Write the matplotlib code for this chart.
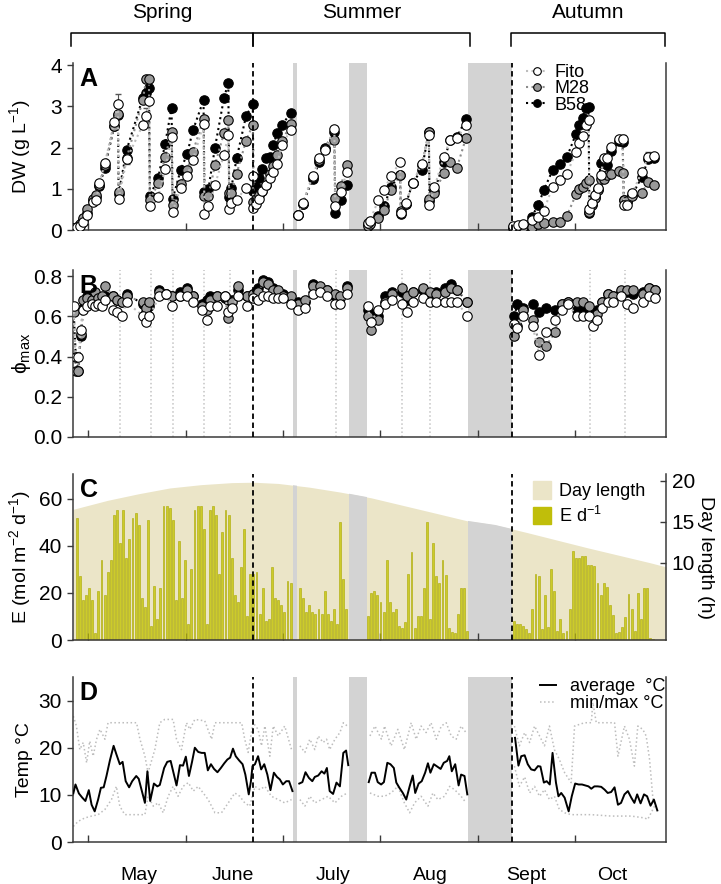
import numpy as np
import matplotlib
matplotlib.use('Agg')
import matplotlib.pyplot as plt
from matplotlib.lines import Line2D
from matplotlib.patches import Patch
import matplotlib.transforms as mtrans

plt.rcParams['font.family'] = ['Liberation Sans', 'DejaVu Sans']
plt.rcParams['mathtext.fontset'] = 'custom'
plt.rcParams['mathtext.rm'] = 'Liberation Sans'
plt.rcParams['mathtext.it'] = 'Liberation Sans:italic'
plt.rcParams['mathtext.bf'] = 'Liberation Sans:bold'

nan = np.nan
# ---------------- x positions are "day index" (0 = 28 April) ----------------
month_ticks = [3.6, 35.1, 66.4, 97.8, 129.3, 160.8]
month_labels = ['May', 'June', 'July', 'Aug', 'Sept', 'Oct']
month_label_pos = [20.1, 50.4, 82.7, 114.0, 144.9, 172.7]
gaps = [(69.9, 71.0), (87.7, 93.8), (126.2, 140.4)]
season_switch = [57.0, 140.4]
dilution_days = [14.0, 24.0, 31.1, 41.1, 49.5, 83.6, 104.9, 114.0, 165.6, 176.9]

# ---------------- Panel A: dry weight ----------------
a_day = [-1.0, 0.0, 1.0, 2.0, 3.2, 5.2, 6.3, 7.3, 9.1, 12.1, 13.3, 13.5, 16.1, 21.3, 22.4, 23.3, 23.6,
         26.3, 28.5, 30.6, 30.9, 33.5, 35.6, 37.5, 40.9, 41.2, 42.5, 44.6, 47.5, 48.9, 49.2, 49.9,
         51.6, 54.6, 56.8, 57.0, 57.7, 58.7, 59.8, 61.0, 62.2, 63.4, 64.6, 66.2, 69.0, nan,
         71.3, 72.9, 76.1, 78.3, 80.1, 83.1, 83.4, 85.2, 87.1, nan,
         93.9, 94.6, 97.3, 99.2, 101.3, 104.3, 104.6, 106.2, 108.4, 111.3, 113.6, 113.8, 115.4,
         118.5, 120.4, 122.6, 125.6, nan,
         140.9, 142.5, 144.1, 146.8, 148.9, 150.7, 153.5, 155.9, 158.1, 161.1, 162.1, 163.2, 164.3,
         165.1, 165.4, 166.1, 167.2, 168.3, 169.0, 170.1, 171.2, 172.4, 175.0, 176.1, 176.5, 177.4,
         179.2, 182.3, 184.4, 186.3]
fito_dw = [.05, .07, .10, .20, .36, .69, .73, 1.15, 1.62, 2.63, 3.06, .74, 1.71, 2.55, 2.76, 3.13, .57,
           .81, 1.47, 2.25, .43, 1.03, 1.31, 1.70, 2.57, .40, .57, 1.09, 1.83, 2.30, .50, .66,
           .73, 1.03, 1.30, .53, .62, .75, .95, 1.10, 1.25, 1.40, 1.60, 2.05, 2.43, nan,
           .36, .66, 1.31, 1.74, 1.94, 2.45, .57, .93, 1.40, nan,
           .18, .22, .73, .97, 1.31, 1.64, .42, .65, 1.15, 1.60, 2.30, .60, 1.05,
           1.78, 2.18, 2.22, 2.55, nan,
           .10, .11, .15, .25, .31, .47, 1.05, 1.21, 1.36, 1.90, 2.12, 2.28, 2.55,
           2.67, .50, .65, .85, 1.01, 1.33, 1.74, 1.74, 2.02, 2.20, 2.20, .60, .60,
           .89, 1.41, 1.78, 1.79]
m28_dw = [.04, .07, .14, .30, .50, .75, .85, 1.09, 1.58, 2.52, 2.81, .93, 1.74, 3.15, 3.66, 3.66, .73,
          1.13, 1.76, 2.38, .61, 1.12, 1.45, 1.90, 2.69, .82, .82, 1.58, 2.35, 2.67, .89, .90,
          1.37, 2.16, 2.55, .69, .75, .85, .95, 1.10, 1.35, 1.55, 1.82, 2.15, 2.56, nan,
          .36, .63, 1.29, 1.70, 1.97, 2.18, .78, 1.07, 1.58, nan,
          .10, .15, .30, .49, .97, 1.33, .45, .63, 1.15, 1.58, 2.38, .75, .90,
          1.39, 1.66, 1.50, 2.24, nan,
          .04, .06, .08, .08, .15, .16, .20, .20, .34, .87, .99, 1.05, 1.15,
          1.21, .44, .60, .77, .97, 1.23, 1.23, 1.33, 1.35, 1.44, 1.39, .73, .70,
          .82, .90, 1.17, 1.09]
b58_dw = [.04, .06, .12, .25, .42, .70, .80, 1.07, 1.51, 2.52, 2.79, .87, 1.94, 3.20, 3.33, 3.44, .82,
          1.27, 2.08, 2.97, .74, 1.45, 1.84, 2.42, 3.15, .93, 1.00, 2.00, 3.20, 3.57, .81, 1.03,
          1.74, 2.76, 3.06, .95, 1.05, 1.25, 1.47, 1.75, 1.77, 2.05, 2.35, 2.55, 2.83, nan,
          .36, .63, 1.23, 1.66, 2.00, 2.38, .42, .73, 1.09, nan,
          .14, .18, .35, .57, 1.05, 1.33, .40, .63, 1.15, 1.46, 2.38, .70, .95,
          1.66, 2.18, 2.25, 2.69, nan,
          .07, .08, .10, .32, .61, .97, 1.45, 1.59, 1.76, 2.34, 2.55, 2.72, 2.97,
          2.99, .42, .62, .80, 1.00, 1.62, 1.70, 1.58, 1.92, 2.15, 2.14, .73, .68,
          .85, 1.29, 1.72, 1.75]
fito_err_day = [13.3, 16.1, 22.4, 113.6, 176.1, 184.4]
fito_err_val = [3.06, 1.71, 2.76, 2.30, 2.20, 1.78]
fito_err = [0.25, 0.12, 0.2, 0.1, 0.1, 0.1]

# ---------------- Panel B: Fv/Fm ----------------
b_day = [-1.0, -0.3, 0.5, 1.3, 2.1, 3.2, 4.8, 5.9, 7.0, 8.0, 9.1, 11.8, 12.9, 14.5, 16.1, 21.5, 22.4, 23.4,
         26.7, 28.8, 30.6, 33.3, 35.5, 37.6, 40.3, 41.9, 43.0, 45.2, 47.8, 48.9, 50.0, 52.1, 54.8,
         57.0, 58.6, 60.2, 61.8, 63.4, 65.0, 66.6, 69.0, nan,
         71.5, 73.6, 76.3, 78.5, 80.6, 83.3, 84.9, 87.3, nan,
         94.0, 94.8, 97.3, 99.5, 101.6, 104.8, 106.7, 108.6, 111.8, 114.0, 115.9, 118.8, 120.8,
         122.8, 125.9, nan,
         141.2, 142.1, 144.1, 147.1, 149.2, 151.3, 154.3, 156.4, 158.4, 161.5, 163.4, 165.4, 166.7,
         167.7, 169.3, 171.5, 173.1, 175.5, 177.4, 179.6, 182.6, 184.7, 186.5]
fito_fv = [.65, .40, .40, .53, .63, .65, .66, .65, .66, .65, .68, .63, .62, .60, .67, .60, .57, .60,
           .70, .71, .65, .70, .70, .67, .63, .58, .65, .65, .70, .62, .64, .70, .65,
           .69, .68, .70, .70, .69, .69, .69, .66, nan,
           .63, .64, .71, .72, .70, .66, .66, .71, nan,
           .65, .57, .63, .66, .68, .66, .62, .67, .69, .67, .67, .67, .67, .67, .60, nan,
           .56, .54, .60, .55, .41, .52, .58, .63, .66, .60, .60, .60, .55,
           .58, .64, .67, .67, .70, .66, .64, .67, .70, .69]
m28_fv = [.62, .33, .33, .51, .68, .69, .68, .72, .69, .70, .75, .70, .68, .67, .70, .67, .64, .67,
          .72, .71, .70, .70, .73, .70, .65, .63, .68, .70, .70, .59, .67, .75, .70,
          .71, .72, .77, .76, .73, .73, .70, .70, nan,
          .66, .68, .75, .75, .73, .71, .70, .74, nan,
          .60, .53, .58, .67, .71, .74, .70, .72, .74, .72, .71, .72, .74, .73, .67, nan,
          .50, .55, .63, .58, .47, .45, .52, .66, .67, .67, .67, .65, .60,
          .61, .67, .71, .70, .73, .73, .73, .71, .74, .73]
b58_fv = [.63, .40, .33, .50, .64, .70, .70, .71, .69, .66, .70, .70, .68, .67, .71, .66, .62, .65,
          .73, .71, .70, .72, .74, .70, .66, .68, .70, .70, .69, .68, .68, .73, .70,
          .71, .74, .78, .77, .74, .72, .71, .68, nan,
          .67, .67, .76, .74, .73, .70, .69, .75, nan,
          .63, .61, .60, .70, .72, .72, .68, .72, .73, .71, .72, .74, .76, .73, .67, nan,
          .60, .66, .64, .66, .62, .64, .63, .66, .67, .63, .63, .63, .60,
          .63, .67, .71, .70, .72, .72, .71, .72, .74, .73]

# ---------------- Panel C: daily light and day length ----------------
e_seg_start = [0, 72, 94, 141]
e_seg1 = [52, 27, 17, 19, 22, 17, 3, 21, 34, 19, 29, 34, 53, 55, 41, 55, 35, 43, 52, 54,
          49, 18, 14, 51, 6, 23, 9, 22, 57, 57, 56, 51, 17, 42, 18, 34, 7, 30, 55, 57,
          57, 47, 7, 55, 57, 53, 28, 46, 55, 53, 35, 19, 16, 31, 47, 10, 28, 28, 29, 11,
          22, 8, 9, 31, 18, 17, 15, 12, 25, 24]
e_seg2 = [22, 18, 12, 15, 12, 11, 13, 11, 21, 11, 8, 13, 7, 50, 26, 13]
e_seg3 = [10, 20, 21, 19, 16, 12, 34, 16, 12, 13, 6, 5, 7.5, 28, 37.5, 5, 10, 10, 22, 50,
          9, 41, 27, 24, 34, 27.5, 5, 3.5, 3, 11, 22, 22, 4]
e_seg4 = [8, 7, 7, 6, 4.5, 3, 13, 28, 27, 4.5, 19, 5.6, 30, 21, 4, 9, 3, 4, 13, 38,
          35, 35, 35.5, 35.5, 32, 32, 31.5, 24, 19, 24, 22.5, 15, 10.5, 3, 3.5, 5.6, 9.6, 19.4, 13, 4,
          20, 9, 22, 22, 0.7, 0.4]
daylen_day = [-1.2, 10, 20, 30, 40, 50, 57, 65, 75, 85, 95, 105, 115, 126, 135, 145, 155, 165, 175, 185, 190.1]
daylen_h = [16.5, 17.6, 18.4, 19.1, 19.5, 19.75, 19.8, 19.65, 19.2, 18.6, 17.9, 17.0, 16.1, 15.1,
            14.6, 13.7, 12.75, 11.8, 10.9, 10.0, 9.5]

# ---------------- Panel D: temperature ----------------
tavg_day = [-1.1, -0.4, 0.7, 1.8, 2.8, 3.9, 4.8, 5.8, 6.9, 7.8, 8.7, 9.6, 10.7, 11.9, 12.8, 13.9, 14.8,
            15.8, 16.9, 17.9, 19.2, 20.0, 20.9, 22.0, 22.8, 23.7, 24.9, 26.0, 26.8, 28.2, 29.2, 30.3,
            31.1, 32.2, 33.3, 34.3, 35.2, 36.2, 37.2, 38.1, 39.2, 40.3, 41.3, 42.3, 43.3, 44.3, 45.4,
            46.5, 47.6, 48.6, 49.5, 50.4, 51.3, 52.4, 53.5, 54.4, 55.5, 56.2, 56.7, 57.5, 58.5, 59.5,
            60.5, 61.5, 62.5, 63.6, 64.6, 65.5, 66.5, 67.6, 68.5, 69.6, nan,
            71.8, 72.8, 73.8, 74.9, 76.0, 76.8, 77.9, 79.0, 79.9, 80.7, 81.6, 82.7, 83.8, 84.9, 86.0,
            86.9, 87.6, nan,
            94.2, 95.1, 96.2, 97.1, 98.2, 99.1, 100.2, 101.2, 102.3, 103.1, 104.1, 105.2, 106.3,
            107.4, 108.4, 109.2, 110.3, 111.3, 112.4, 113.3, 114.1, 115.2, 116.3, 117.4, 118.4,
            119.5, 120.2, 121.0, 122.1, 123.2, 124.0, 125.1, 126.0, nan,
            141.4, 142.5, 143.4, 144.5, 145.5, 146.6, 147.7, 148.8, 149.6, 150.7, 151.6, 152.6,
            153.5, 154.6, 155.4, 156.3, 157.4, 158.7, 159.7, 160.8, 161.9, 163.0, 164.0, 165.1,
            166.0, 167.0, 168.1, 169.2, 170.3, 171.3, 172.4, 173.5, 174.6, 175.6, 176.7, 177.8,
            178.9, 179.9, 180.8, 181.9, 183.0, 184.0, 185.1, 186.2, 187.3]
tavg = [10.3, 12.2, 10.3, 9.4, 8.7, 11.0, 7.9, 6.5, 9.0, 11.5, 11.6, 14.0, 17.3, 20.4, 18.6, 16.5, 17.0,
        12.9, 11.6, 12.9, 14.0, 13.4, 11.1, 8.3, 15.0, 8.7, 12.4, 11.8, 12.1, 15.7, 17.0, 17.2,
        15.0, 12.0, 16.3, 16.2, 18.1, 14.0, 17.0, 20.0, 19.1, 18.9, 18.9, 15.2, 16.5, 15.5, 14.8,
        15.7, 16.7, 17.5, 17.9, 19.8, 18.2, 17.3, 16.5, 14.3, 10.1, 12.9, 16.1, 16.5, 18.2, 15.4,
        16.5, 14.3, 11.0, 14.7, 13.8, 13.3, 12.2, 12.9, 12.9, 10.8, nan,
        12.4, 12.7, 14.8, 13.6, 12.9, 13.8, 14.1, 15.0, 14.5, 15.7, 10.8, 10.2, 12.6, 11.8, 18.9,
        19.4, 16.3, nan,
        12.7, 14.7, 14.7, 12.7, 12.2, 12.7, 16.8, 16.5, 15.7, 12.6, 11.5, 10.4, 9.0,
        11.8, 14.1, 10.4, 12.4, 12.9, 14.7, 16.7, 14.7, 16.5, 16.0, 15.5, 16.8,
        17.2, 18.2, 15.0, 16.5, 12.0, 14.3, 14.0, 10.1, nan,
        22.1, 16.2, 18.2, 18.4, 16.5, 15.4, 15.2, 16.1, 16.0, 12.6, 12.9, 12.2,
        18.9, 12.6, 9.7, 10.4, 9.4, 6.5, 9.7, 12.4, 12.2, 12.2, 12.0, 11.8,
        11.3, 11.8, 11.8, 11.7, 11.1, 10.4, 10.6, 11.6, 7.9, 8.3, 10.1, 10.8,
        9.4, 8.3, 10.1, 8.2, 10.1, 9.7, 7.7, 9.0, 6.7]
tmax_day = [-1.1, -0.1, 1.0, 2.1, 3.2, 4.2, 5.3, 6.4, 7.5, 9.1, 10.1, 12.8, 15.5, 19.3, 20.4, 22.0, 23.0,
            25.2, 26.8, 28.4, 31.1, 32.2, 33.8, 35.4, 36.5, 38.1, 41.3, 43.5, 44.6, 46.7, 53.2, 54.2,
            55.3, 56.9, 58.5, 59.6, 60.7, 62.3, 63.4, 65.0, 67.1, 69.3, nan,
            72.0, 73.6, 75.2, 76.8, 77.9, 79.5, 80.6, 81.6, 83.3, 84.9, 86.0, 87.3, nan,
            94.6, 96.2, 98.3, 99.3, 101.4, 103.6, 105.7, 107.9, 109.5, 111.1, 112.7, 114.3, 116.0,
            117.6, 119.2, 120.8, 122.4, 124.0, 125.6, nan,
            141.2, 142.8, 144.5, 146.1, 147.7, 149.3, 150.9, 152.5, 154.1, 155.7, 157.4, 159.5,
            160.6, 163.8, 166.0, 166.5, 167.6, 173.5, 174.6, 176.7, 178.3, 179.9, 181.0, 182.6,
            183.7, 184.8, 185.9, 186.9]
tmax = [26.7, 24.6, 19.6, 21.1, 16.8, 21.4, 18.2, 21.8, 23.9, 21.8, 25.3, 25.3, 25.3, 25.3, 21.8, 18.2,
        14.7, 19.6, 25.3, 26.0, 26.0, 21.8, 19.6, 25.3, 23.9, 26.0, 25.7, 21.8, 25.3, 25.3, 25.3,
        21.8, 19.0, 25.3, 23.9, 20.4, 24.6, 18.2, 24.6, 22.5, 24.6, 19.6, nan,
        20.4, 19.0, 21.8, 19.6, 22.5, 21.1, 21.8, 19.6, 21.8, 23.2, 25.3, 24.6, nan,
        22.5, 24.6, 21.8, 24.6, 20.4, 23.9, 19.6, 25.3, 21.8, 24.6, 23.2, 25.3, 21.8,
        24.6, 25.3, 22.5, 21.8, 24.6, 23.2, nan,
        24.6, 20.4, 23.2, 21.1, 24.6, 22.5, 20.4, 24.6, 19.6, 17.5, 14.7, 12.6,
        24.6, 25.3, 25.3, 29.6, 25.3, 25.3, 18.2, 24.6, 21.8, 16.1, 24.6, 23.9,
        22.5, 17.5, 9.0, 7.6]
tmin_day = [-1.1, 0.5, 2.6, 4.8, 6.9, 9.1, 11.2, 12.8, 13.9, 15.5, 22.0, 23.0, 24.7, 26.3, 27.9, 29.5,
            31.1, 32.7, 34.3, 36.0, 37.6, 39.2, 40.8, 42.4, 44.6, 46.7, 48.9, 51.0, 52.6, 54.2, 55.8,
            57.5, 59.1, 60.7, 62.8, 65.0, 67.1, 69.3, nan,
            72.0, 73.6, 75.2, 76.8, 79.0, 81.1, 83.3, 85.4, 87.3, nan,
            94.6, 97.2, 99.3, 101.4, 103.6, 105.7, 107.4, 109.0, 111.1, 113.3, 114.9, 116.5, 118.7,
            120.3, 121.9, 124.0, 125.6, nan,
            141.2, 142.8, 144.5, 146.1, 147.7, 149.3, 150.9, 152.5, 154.1, 155.7, 157.4, 159.5,
            166.0, 172.4, 178.9, 183.2, 184.2, 186.4]
tmin = [3.3, 4.4, 5.1, 5.5, 5.8, 6.9, 9.0, 11.8, 7.6, 5.8, 5.8, 9.7, 7.6, 8.3, 6.2, 9.7,
        11.8, 9.7, 11.8, 12.6, 10.8, 11.8, 10.4, 9.0, 6.2, 6.2, 8.3, 10.4, 9.7, 8.3, 7.6,
        11.8, 11.1, 11.8, 9.7, 9.0, 8.3, 9.0, nan,
        9.0, 7.6, 9.7, 8.3, 9.0, 9.7, 8.3, 9.7, 10.4, nan,
        10.4, 9.7, 9.7, 10.4, 11.8, 8.3, 6.2, 8.3, 9.7, 7.6, 10.4, 9.0, 9.7,
        11.8, 11.1, 9.7, 8.3, nan,
        16.1, 11.8, 13.8, 10.4, 11.8, 9.7, 11.1, 9.0, 9.7, 6.9, 6.2, 5.8,
        5.8, 5.5, 5.5, 5.1, 4.8, 7.6]

# ---------------- styling ----------------
W, H = 721, 884
fig = plt.figure(figsize=(W / 100, H / 100), dpi=100)
spine_c = '#3a3a3a'
gap_c = '#d3d3d3'
fs = 14      # axis labels, month labels
fs_tick = 15
fs_leg = 13

def fx(px):
    return px / W

def fy(py):
    return 1 - py / H

left, right = 73, 666
boxes = [(63, 230), (270, 437), (474, 640), (677, 842)]
axes = []
for top, bot in boxes:
    ax = fig.add_axes([fx(left), fy(bot), fx(right - left), (bot - top) / H])
    axes.append(ax)
axA, axB, axC, axD = axes

xlim = (-1.2, 190.1)
for ax in axes:
    ax.set_xlim(*xlim)
    ax.spines['top'].set_visible(False)
    for s in ['left', 'right', 'bottom']:
        ax.spines[s].set_color(spine_c)
        ax.spines[s].set_linewidth(1.1)
    ax.set_xticks(month_ticks)
    ax.set_xticklabels([])
    ax.tick_params(axis='x', direction='in', length=5, width=1, colors=spine_c)
    ax.tick_params(axis='y', direction='out', length=4, width=1, colors=spine_c,
                   labelcolor='black', labelsize=fs_tick, pad=4)
    ax.tick_params(axis='y', right=False)
    for ds in season_switch:
        ax.axvline(ds, color='black', ls=(0, (3, 2)), lw=1.3, zorder=5)

for ax in (axA, axB, axD):
    for g0, g1 in gaps:
        ax.axvspan(g0, g1, color=gap_c, lw=0, zorder=0)

# ---------- A ----------
series = [('B58', b58_dw, 'black', 'black'), ('M28', m28_dw, '#999999', '#8c8c8c'),
          ('Fito', fito_dw, 'white', '#bdbdbd')]
axA.errorbar(fito_err_day, fito_err_val, yerr=fito_err, fmt='none', ecolor='#555555',
             elinewidth=0.8, capsize=2, zorder=2)
for name, vals, fc, lc in series:
    axA.plot(a_day, vals, ls=':', lw=1.5, color=lc, marker='o', ms=6.8, mfc=fc,
             mec='black', mew=0.8, zorder=3)
axA.set_ylim(0, 4.05)
axA.set_yticks([0, 1, 2, 3, 4])
axA.set_ylabel('DW (g L$^{-1}$)', fontsize=fs)
handles = [Line2D([], [], ls=':', lw=1.5, color='#bdbdbd', marker='o', ms=5.5, mfc='white', mec='black', mew=0.8),
           Line2D([], [], ls=':', lw=1.5, color='#8c8c8c', marker='o', ms=5.5, mfc='#999999', mec='black', mew=0.8),
           Line2D([], [], ls=':', lw=1.5, color='black', marker='o', ms=5.5, mfc='black', mec='black', mew=0.8)]
axA.legend(handles, ['Fito', 'M28', 'B58'], loc='upper left', bbox_to_anchor=(0.752, 1.035),
           frameon=False, fontsize=fs_leg, handlelength=1.2, handletextpad=0.35, labelspacing=-0.05,
           borderaxespad=0)

# ---------- B ----------
for dd in dilution_days:
    axB.axvline(dd, color='#c4c4c4', ls=':', lw=1.1, zorder=1)
for name, vals, fc, lc in [('B58', b58_fv, 'black', 'black'), ('M28', m28_fv, '#999999', '#8c8c8c'),
                           ('Fito', fito_fv, 'white', '#bdbdbd')]:
    axB.plot(b_day, vals, ls=':', lw=1.5, color=lc, marker='o', ms=6.8, mfc=fc,
             mec='black', mew=0.8, zorder=3)
axB.set_ylim(0, 0.83)
axB.set_yticks([0, 0.2, 0.4, 0.6, 0.8])
axB.set_yticklabels(['0.0', '0.2', '0.4', '0.6', '0.8'])
axB.set_ylabel('ϕ$_{\\mathrm{max}}$', fontsize=fs + 1)

# ---------- C ----------
axC2 = axC.twinx()
axC.set_zorder(axC2.get_zorder() + 1)
axC.patch.set_visible(False)
beige = '#ebe5c8'
fill = axC2.fill_between(daylen_day, 0, daylen_h, color=beige, lw=0, zorder=0)
clip_path = fill.get_paths()[0]
for g0, g1 in gaps:
    sp = axC2.axvspan(g0, g1, color=gap_c, lw=0, zorder=1)
    sp.set_clip_path(clip_path, axC2.transData)
axC2.set_ylim(0.6, 20.8)
axC2.set_yticks([10, 15, 20])
axC2.tick_params(axis='y', direction='in', length=4, width=1, colors=spine_c,
                 labelcolor='black', labelsize=fs_tick, pad=4)
for s in ['top', 'left', 'bottom']:
    axC2.spines[s].set_visible(False)
axC2.spines['right'].set_color(spine_c)
axC2.spines['right'].set_linewidth(1.1)
axC2.set_ylabel('Day length (h)', fontsize=fs, rotation=270, va='bottom')
axC2.yaxis.set_label_coords(1.053, 0.5)
axC.spines['right'].set_visible(False)

bar_c = '#cccb2a'
for start, seg in zip(e_seg_start, [e_seg1, e_seg2, e_seg3, e_seg4]):
    xs = start + np.arange(len(seg))
    axC.bar(xs, seg, width=0.6, color=bar_c, edgecolor='#a9a700', lw=0.4, zorder=2)
axC.set_ylim(0, 70.5)
axC.set_yticks([0, 20, 40, 60])
axC.set_ylabel('E (mol m$^{-2}$ d$^{-1}$)', fontsize=fs)
axC.legend([Patch(color=beige), Patch(color='#c0be0a')], ['Day length', 'E d$^{-1}$'],
           loc='upper left', bbox_to_anchor=(0.764, 1.0), frameon=False, fontsize=fs_leg,
           handlelength=1.0, handleheight=1.1, handletextpad=0.45, labelspacing=0.3, borderaxespad=0)

# ---------- D ----------
axD.plot(tmax_day, tmax, ls=':', lw=1.1, color='#bdbdbd', zorder=2)
axD.plot(tmin_day, tmin, ls=':', lw=1.1, color='#bdbdbd', zorder=2)
axD.plot(tavg_day, tavg, ls='-', lw=1.4, color='black', zorder=3)
axD.set_ylim(0, 35)
axD.set_yticks([0, 10, 20, 30])
axD.set_ylabel('Temp °C', fontsize=fs)
axD.legend([Line2D([], [], color='black', lw=1.4), Line2D([], [], color='#bdbdbd', lw=1.1, ls=':')],
           ['average  °C', 'min/max °C'], loc='upper left', bbox_to_anchor=(0.775, 1.035),
           frameon=False, fontsize=fs_leg, handlelength=0.9, handletextpad=0.8, labelspacing=0.0,
           borderaxespad=0)
trans = mtrans.blended_transform_factory(axD.transData, axD.transAxes)
for pos, lab in zip(month_label_pos, month_labels):
    axD.text(pos, -0.2, lab, transform=trans, ha='center', va='center', fontsize=fs)

for ax in axes:
    ax.yaxis.set_label_coords(-0.068, 0.5)

for ax, letter in zip(axes, 'ABCD'):
    ax.text(0.011, 0.975, letter, transform=ax.transAxes, fontsize=18, fontweight='bold',
            va='top', ha='left', zorder=10)

# ---------- season brackets ----------
for (x0, x1), lab in zip([(71, 253), (253, 470), (511, 665)], ['Spring', 'Summer', 'Autumn']):
    fig.add_artist(Line2D([fx(x0), fx(x0), fx(x1), fx(x1)], [fy(46), fy(33), fy(33), fy(46)],
                          color='black', lw=1.1))
    fig.text(fx((x0 + x1) / 2), fy(13), lab, ha='center', va='center', fontsize=fs_tick)

fig.savefig('out.png', dpi=100)
